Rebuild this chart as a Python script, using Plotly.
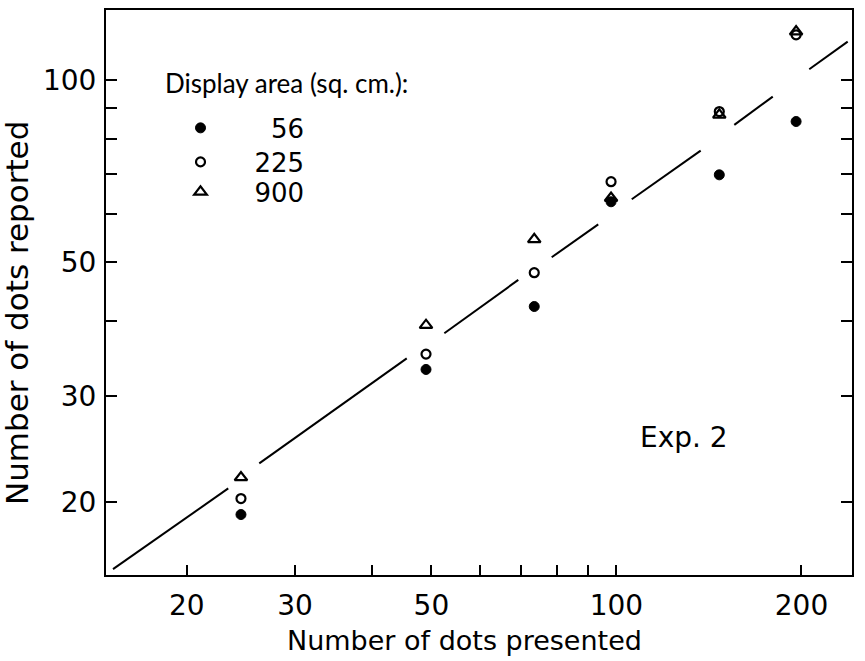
import plotly.graph_objects as go

# Number of dots presented (x) for each display
presented = [24.5, 49, 73.5, 98, 147, 196]
# Number of dots reported, by display area (sq. cm.)
reported_56 = [19.1, 33.2, 42.2, 62.9, 69.7, 85.4]
reported_225 = [20.3, 35.2, 48.0, 67.9, 88.7, 118.8]
reported_900 = [22.0, 39.3, 54.5, 63.8, 87.6, 120.3]

# Fitted line, drawn as broken segments (segment endpoints)
fit_x = [15.17, 23.36, None, 26.24, 45.59, None, 52.48, 69.23, None,
         78.46, 93.41, None, 105.9, 137.1, None, 155.5, 179.6, None, 205.9, 237.8]
fit_y = [15.51, 21.10, None, 23.21, 34.64, None, 38.11, 46.70, None,
         50.91, 57.72, None, 63.5, 76.43, None, 84.3, 93.9, None, 104.2, 115.8]

x_ticks = [20, 30, 40, 50, 60, 70, 80, 90, 100, 200]
x_labels = ["20", "30", "", "50", "", "", "", "", "100", "200"]
y_ticks = [20, 30, 40, 50, 60, 70, 80, 90, 100]
y_labels = ["20", "30", "", "50", "", "", "", "", "100"]

AX_FONT = "DejaVu Sans"
LEG_FONT = "Lato"

fig = go.Figure()

fig.add_trace(go.Scatter(
    x=fit_x, y=fit_y, mode="lines", line=dict(color="black", width=2),
    showlegend=False, hoverinfo="skip", connectgaps=False))

fig.add_trace(go.Scatter(
    x=presented, y=reported_56, mode="markers", name="\u200756", legend="legend",
    marker=dict(symbol="circle", size=10, color="black",
                line=dict(color="black", width=1))))
fig.add_trace(go.Scatter(
    x=presented, y=reported_225, mode="markers", name="225", legend="legend2",
    marker=dict(symbol="circle-open", size=9, color="black",
                line=dict(color="black", width=2.2))))
fig.add_trace(go.Scatter(
    x=presented, y=reported_900, mode="markers", name="900", legend="legend3",
    marker=dict(symbol="triangle-up-open", size=11, color="black",
                line=dict(color="black", width=2.2))))

leg_common = dict(
    x=0.0543, xanchor="left", yanchor="middle",
    bgcolor="rgba(0,0,0,0)", font=dict(size=26, family=AX_FONT),
    itemwidth=98, itemsizing="trace",
)

fig.update_layout(
    width=865, height=661,
    margin=dict(l=106, r=13, t=10, b=86, autoexpand=False),
    paper_bgcolor="white", plot_bgcolor="white",
    font=dict(family=AX_FONT, color="black", size=26),
    showlegend=True,
    legend=dict(y=0.7912, **leg_common),
    legend2=dict(y=0.7310, **leg_common),
    legend3=dict(y=0.6779, **leg_common),
    xaxis=dict(
        type="log", range=[1.1696, 2.3832], automargin=False,
        tickmode="array", tickvals=x_ticks, ticktext=x_labels,
        ticks="inside", ticklen=10, tickwidth=1.5, tickcolor="black",
        showline=True, linecolor="black", linewidth=2, mirror=True,
        showgrid=False, zeroline=False,
        tickfont=dict(size=28, family=AX_FONT),
        ticklabelstandoff=4,
    ),
    yaxis=dict(
        type="log", range=[1.181, 2.116], automargin=False,
        tickmode="array", tickvals=y_ticks, ticktext=y_labels,
        ticks="inside", ticklen=11, tickwidth=1.5, tickcolor="black",
        showline=True, linecolor="black", linewidth=2, mirror="ticks",
        showgrid=False, zeroline=False,
        tickfont=dict(size=28, family=AX_FONT),
        ticklabelstandoff=2,
    ),
    annotations=[
        dict(text="Display area (sq. cm.):", x=0.0764, y=0.8708,
             xref="paper", yref="paper", xanchor="left", yanchor="middle",
             showarrow=False, font=dict(size=26, family=LEG_FONT)),
        dict(text="Number of dots presented", x=0.4812, y=-0.1168,
             xref="paper", yref="paper", xanchor="center", yanchor="middle",
             showarrow=False, font=dict(size=27, family=AX_FONT)),
        dict(text="Number of dots reported", x=-0.1193, y=0.4637, textangle=-90,
             xref="paper", yref="paper", xanchor="center", yanchor="middle",
             showarrow=False, font=dict(size=31, family=AX_FONT)),
        dict(text="Exp. 2", x=0.713, y=0.244, xref="paper", yref="paper",
             xanchor="left", yanchor="middle", showarrow=False,
             font=dict(size=28, family=AX_FONT)),
    ],
)

fig.write_html(
    "out.html",
    config={"displayModeBar": False},
    post_script="document.body.style.margin='0';document.body.style.overflow='hidden';",
)
